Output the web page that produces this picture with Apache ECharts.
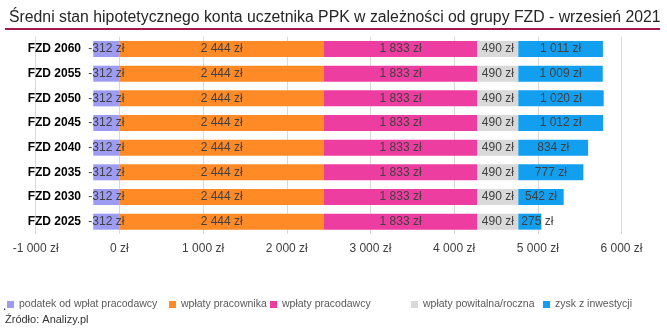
<!DOCTYPE html>
<html><head><meta charset="utf-8">
<script src="https://cdn.jsdelivr.net/npm/echarts@6/dist/echarts.min.js"></script>
<style>html,body{margin:0;padding:0;background:#fff}#c{width:667px;height:335px}</style>
</head><body><div id="c"></div>
<script>
const categories = ['FZD 2060','FZD 2055','FZD 2050','FZD 2045','FZD 2040','FZD 2035','FZD 2030','FZD 2025'];
const seriesNames = ['podatek od wpłat pracodawcy','wpłaty pracownika','wpłaty pracodawcy','wpłaty powitalna/roczna','zysk z inwestycji'];
const podatek = [-312,-312,-312,-312,-312,-312,-312,-312];
const pracownika = [2444,2444,2444,2444,2444,2444,2444,2444];
const pracodawcy = [1833,1833,1833,1833,1833,1833,1833,1833];
const powitalna = [490,490,490,490,490,490,490,490];
const zysk = [1011,1009,1020,1012,834,777,542,275];
const xTicks = [-1000,0,1000,2000,3000,4000,5000,6000];

const colors = ['#9D9BF2','#FF8A26','#EE3DA0','#D9D9D9','#139FEF'];
const values = [podatek, pracownika, pracodawcy, powitalna, zysk];
function fmt(v){ return String(v).replace(/\B(?=(\d{3})+(?!\d))/g,' ') + ' zł'; }

const chart = echarts.init(document.getElementById('c'), null, {renderer:'canvas'});
const legendLefts = [7, 169, 270, 411, 543];
const series = values.map((arr, i) => ({
  name: seriesNames[i], type: 'bar', stack: 'total', barWidth: 16,
  itemStyle: {color: colors[i]},
  label: {show: true, position: 'inside', color: '#404040', fontSize: 12,
    fontFamily: 'Liberation Sans, Arial, sans-serif', overflow: 'none',
    formatter: p => fmt(p.value)},
  data: arr.map((v, j) => {
    if (i === 4 && v < 400) return {value: v, label: {position: 'insideLeft', distance: 3}};
    return v;
  })
}));
chart.setOption({
  animation: false,
  textStyle: {fontFamily: 'Liberation Sans, Arial, sans-serif'},
  title: {text: 'Średni stan hipotetycznego konta uczetnika PPK w zależności od grupy FZD - wrzesień 2021',
    left: 4, top: 5, textStyle: {fontSize: 15.8, fontWeight: 'normal', color: '#262626', fontFamily: 'Liberation Sans, Arial, sans-serif'}},
  graphic: [
    {type: 'line', shape: {x1: 5, y1: 29, x2: 660, y2: 29}, style: {stroke: '#A3174B', lineWidth: 2}},
    {type: 'text', left: 5, top: 314, style: {text: 'Źródło: Analizy.pl', fontSize: 11, fill: '#333', fontFamily: 'Liberation Sans, Arial, sans-serif'}},
    {type: 'text', left: 3, top: 301, style: {text: '.', fontSize: 12, fill: '#333'}}
  ],
  legend: seriesNames.map((n, i) => ({
    data: [n], left: legendLefts[i], top: 299, itemWidth: 7, itemHeight: 7, icon: 'rect', itemGap: 0, padding: 0,
    textStyle: {fontSize: 10.5, color: '#595959', padding: [0,0,0,0]}
  })),
  grid: {left: 35.7, width: 585.8, top: 36.7, height: 197.3, containLabel: false, outerBoundsMode: 'none'},
  xAxis: {type: 'value', min: -1000, max: 6000, interval: 1000,
    axisLine: {show: false}, axisTick: {show: false},
    splitLine: {lineStyle: {color: '#D9D9D9', width: 1}},
    axisLabel: {color: '#404040', fontSize: 12, margin: 9, formatter: v => xTicks.includes(v) ? fmt(v) : ''}},
  yAxis: {type: 'category', data: categories, inverse: true, offset: -53.3,
    axisLine: {show: false, onZero: false}, axisTick: {show: false},
    axisLabel: {color: '#000', fontSize: 12, fontWeight: 'bold', margin: 8}},
  series: series
});
</script></body></html>
